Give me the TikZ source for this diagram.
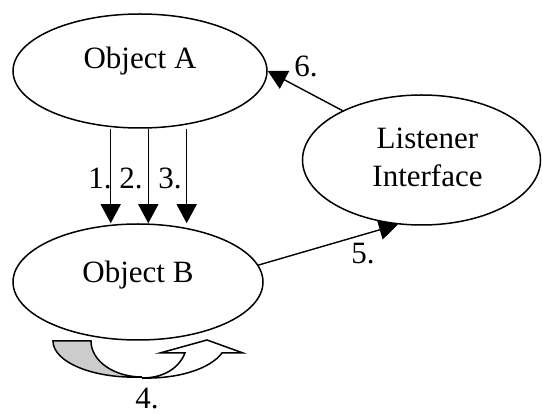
\documentclass[tikz,border=0pt]{standalone}
\usepackage{fontspec}
\setmainfont{Liberation Serif}
\usetikzlibrary{shapes.geometric,arrows.meta}
\begin{document}
\begin{tikzpicture}[x=1pt,y=-1pt,
  obj/.style={draw, ellipse, line width=1.5pt, inner sep=0pt},
  txt/.style={font=\fontsize{31}{38}\selectfont, inner sep=0pt},
  conn/.style={line width=1.4pt, -{Triangle[width=20pt,length=19pt]}},
  turn/.style={line width=1.5pt, line join=miter}]
\useasboundingbox (0,0) rectangle (542,414);

% objects
\node[obj, minimum width=254pt, minimum height=114pt,
      label={[txt, yshift=10pt]center:Object A}] (A) at (140,71) {};
\node[obj, minimum width=250pt, minimum height=116pt,
      label={[txt, yshift=7pt]center:Object B}] (B) at (138,282) {};
\node[obj, minimum width=238pt, minimum height=130pt,
      label={[txt, align=center, xshift=6pt, yshift=3pt]center:{Listener\\Interface}}] (L) at (421.5,160) {};

% calls from A to B
\draw[conn] ([xshift=-29.3pt]A.south) -- ([xshift=-29.3pt]A.south |- B.north);
\draw[conn] ([xshift=8.3pt]A.south) -- ([xshift=8.3pt]A.south |- B.north);
\draw[conn] ([xshift=46.7pt]A.south) -- ([xshift=46.7pt]A.south |- B.north);
\node[txt] (n1) at (100,178) {1.};
\node[txt] (n2) at (131,178) {2.};
\node[txt] (n3) at (170,178) {3.};

% B notifies the listener, listener calls back A
\draw[conn] (B.8.6) -- (L.-110.6);
\draw[conn] (L.148) -- (A.east);
\node[txt] (n5) at (363,254) {5.};
\node[txt] (n6) at (306,66) {6.};

% self turn arrow below B
\draw[turn, fill=black!20] (53,341) -- (91,341)
  .. controls (91,361) and (114,377) .. (142,377)
  .. controls (93,379) and (53,362) .. (53,341) -- cycle;
\draw[turn, fill=white] (142,378)
  .. controls (166,378) and (180,366) .. (185,353)
  -- (160,353) -- (207,340) -- (243,353) -- (222,353)
  .. controls (210,369) and (178,379) .. (142,378) -- cycle;
\node[txt] (n4) at (147,399) {4.};
\end{tikzpicture}
\end{document}
